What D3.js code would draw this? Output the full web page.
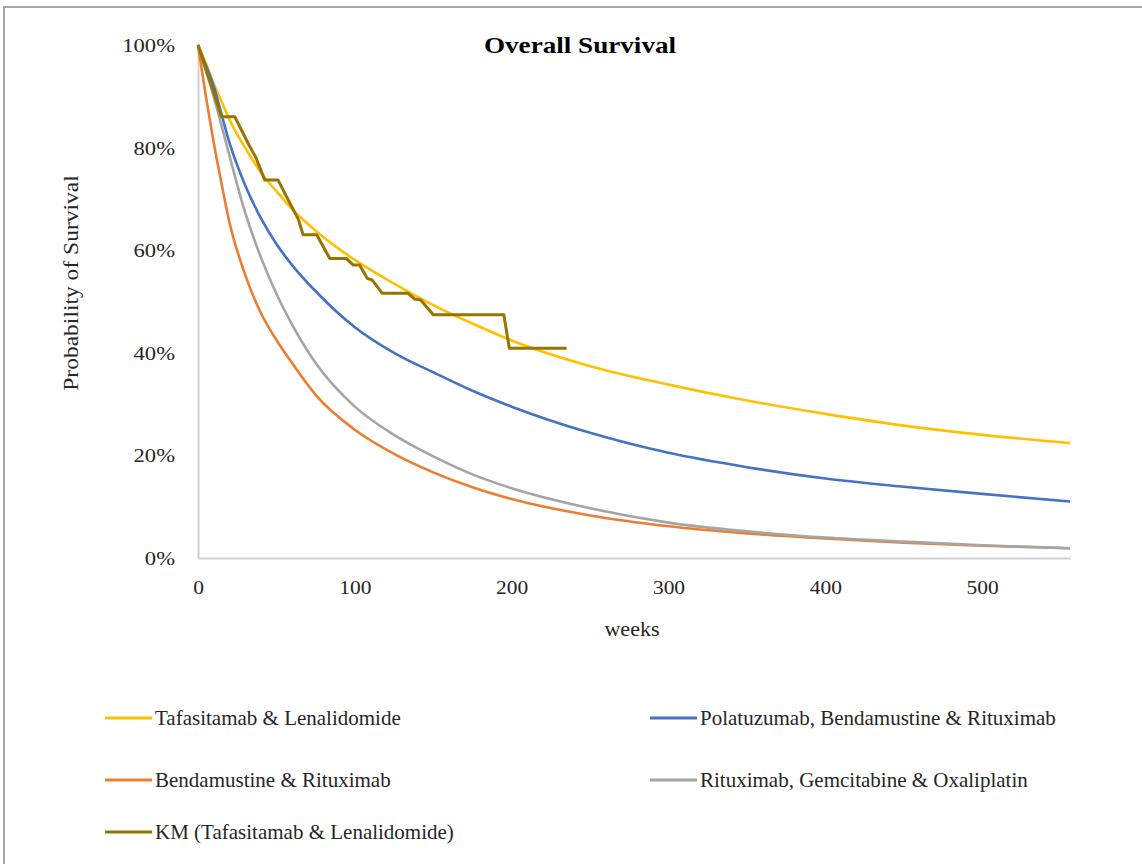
<!DOCTYPE html>
<html>
<head>
<meta charset="utf-8">
<script src="https://cdn.jsdelivr.net/npm/d3@7"></script>
<style>
  html, body { margin: 0; padding: 0; background: #fff; }
  svg { display: block; }
  text { font-family: "Liberation Serif", "Times New Roman", serif; fill: #262626; }
</style>
</head>
<body>
<script>
// ---------- Data ----------
const weeks      = [0, 5, 10, 15, 20, 30, 40, 50, 60, 75, 100, 125, 150, 175, 200, 250, 300, 350, 400, 450, 500, 556];
const tafaLen    = [1.00, 0.965, 0.925, 0.89, 0.855, 0.80, 0.752, 0.715, 0.68, 0.638, 0.581, 0.535, 0.493, 0.457, 0.424, 0.374, 0.338, 0.307, 0.281, 0.258, 0.240, 0.224];
const polaBenRit = [1.00, 0.96, 0.92, 0.865, 0.81, 0.727, 0.663, 0.612, 0.571, 0.52, 0.45, 0.40, 0.362, 0.326, 0.295, 0.244, 0.205, 0.177, 0.155, 0.139, 0.125, 0.110];
const benRit     = [1.00, 0.90, 0.81, 0.73, 0.655, 0.553, 0.478, 0.425, 0.38, 0.318, 0.25, 0.203, 0.167, 0.138, 0.115, 0.083, 0.062, 0.048, 0.038, 0.030, 0.024, 0.019];
const ritGemOx   = [1.00, 0.95, 0.90, 0.843, 0.785, 0.674, 0.587, 0.515, 0.455, 0.38, 0.295, 0.24, 0.198, 0.163, 0.136, 0.097, 0.069, 0.052, 0.040, 0.032, 0.025, 0.019];

const kmWeeks = [0, 15, 23.5, 32, 37, 42.5, 51, 58.7, 64, 67, 75.7, 84, 94.5, 99, 103, 108, 111, 117.5, 134, 138, 142, 150, 195, 198.5, 235];
const kmSurv  = [1.00, 0.86, 0.86, 0.808, 0.78, 0.737, 0.737, 0.691, 0.66, 0.63, 0.63, 0.584, 0.584, 0.571, 0.571, 0.545, 0.542, 0.516, 0.516, 0.505, 0.503, 0.474, 0.474, 0.409, 0.409];

const seriesNames = ["Tafasitamab & Lenalidomide", "Polatuzumab, Bendamustine & Rituximab", "Bendamustine & Rituximab", "Rituximab, Gemcitabine & Oxaliplatin", "KM (Tafasitamab & Lenalidomide)"];
const seriesColors = ["#FFC000", "#4472C4", "#ED7D31", "#A5A5A5", "#997300"];
const xTicks = [0, 100, 200, 300, 400, 500];
const yTicks = [0, 0.2, 0.4, 0.6, 0.8, 1.0];

// ---------- Layout ----------
const W = 1142, H = 864;
const svg = d3.select("body").append("svg").attr("width", W).attr("height", H);

svg.append("rect").attr("x", 4).attr("y", 7).attr("width", W + 20).attr("height", H + 20)
  .attr("fill", "#fff").attr("stroke", "#A6A6A6").attr("stroke-width", 2);

const x = d3.scaleLinear().domain([0, 556]).range([198, 1070]);
const y = d3.scaleLinear().domain([0, 1]).range([558, 45]);

function txt(g, tx, ty, s, opts = {}) {
  const t = g.append("text")
    .attr("transform", `translate(${tx},${ty}) ${opts.rotate ? "rotate(-90)" : ""} scale(${opts.sx || 1},1)`)
    .attr("text-anchor", opts.anchor || "start")
    .attr("dominant-baseline", "central")
    .style("font-size", (opts.size || 19) + "px")
    .text(s);
  if (opts.bold) t.style("font-weight", "bold").style("fill", "#000");
  return t;
}

// Axes
const yAxis = d3.axisLeft(y).tickValues(yTicks).tickSize(0).tickFormat(d3.format(".0%"));
const xAxis = d3.axisBottom(x).tickValues(xTicks).tickSize(0).tickFormat(d3.format("d"));

const gy = svg.append("g").attr("transform", `translate(${x(0)},0)`).call(yAxis);
gy.select(".domain").attr("stroke", "#D0D0D0").attr("stroke-width", 2);
gy.selectAll(".tick text").remove();
gy.selectAll(".tick").each(function(d) {
  txt(d3.select(this), -23, 0, d3.format(".0%")(d), { anchor: "end", size: 19.5, sx: 1.16 });
});

const gx = svg.append("g").attr("transform", `translate(0,${y(0)})`).call(xAxis);
gx.select(".domain").attr("stroke", "#D0D0D0").attr("stroke-width", 2);
gx.selectAll(".tick text").remove();
gx.selectAll(".tick").each(function(d) {
  txt(d3.select(this), 0, 29, d3.format("d")(d), { anchor: "middle", size: 19.5, sx: 1.1 });
});

// Lines
const allSeries = [tafaLen, polaBenRit, benRit, ritGemOx];
const smooth = d3.line().x(d => x(d[0])).y(d => y(d[1])).curve(d3.curveMonotoneX);
allSeries.forEach((vals, i) => {
  svg.append("path")
    .datum(weeks.map((w, j) => [w, vals[j]]))
    .attr("d", smooth)
    .attr("fill", "none")
    .attr("stroke", seriesColors[i])
    .attr("stroke-width", 2.6)
    .attr("stroke-linejoin", "round");
});
const kmLine = d3.line().x(d => x(d[0])).y(d => y(d[1]));
svg.append("path")
  .datum(kmWeeks.map((w, j) => [w, kmSurv[j]]))
  .attr("d", kmLine)
  .attr("fill", "none")
  .attr("stroke", seriesColors[4])
  .attr("stroke-width", 3)
  .attr("stroke-linejoin", "round");

// Titles
txt(svg, 580, 45, "Overall Survival", { anchor: "middle", size: 23, bold: true, sx: 1.18 });
txt(svg, 632, 629, "weeks", { anchor: "middle", size: 21, sx: 1.05 });
txt(svg, 71, 283, "Probability of Survival", { anchor: "middle", size: 21, rotate: true, sx: 1.12 });

// Legend
const legPos = [[105, 718], [650, 718], [105, 780], [650, 780], [105, 832]];
seriesNames.forEach((name, i) => {
  const [lx, ly] = legPos[i];
  const g = svg.append("g");
  g.append("line").attr("x1", lx).attr("x2", lx + 47).attr("y1", ly).attr("y2", ly)
    .attr("stroke", seriesColors[i]).attr("stroke-width", 3);
  txt(g, lx + 50, ly, name, { size: 21 });
});
</script>
</body>
</html>
